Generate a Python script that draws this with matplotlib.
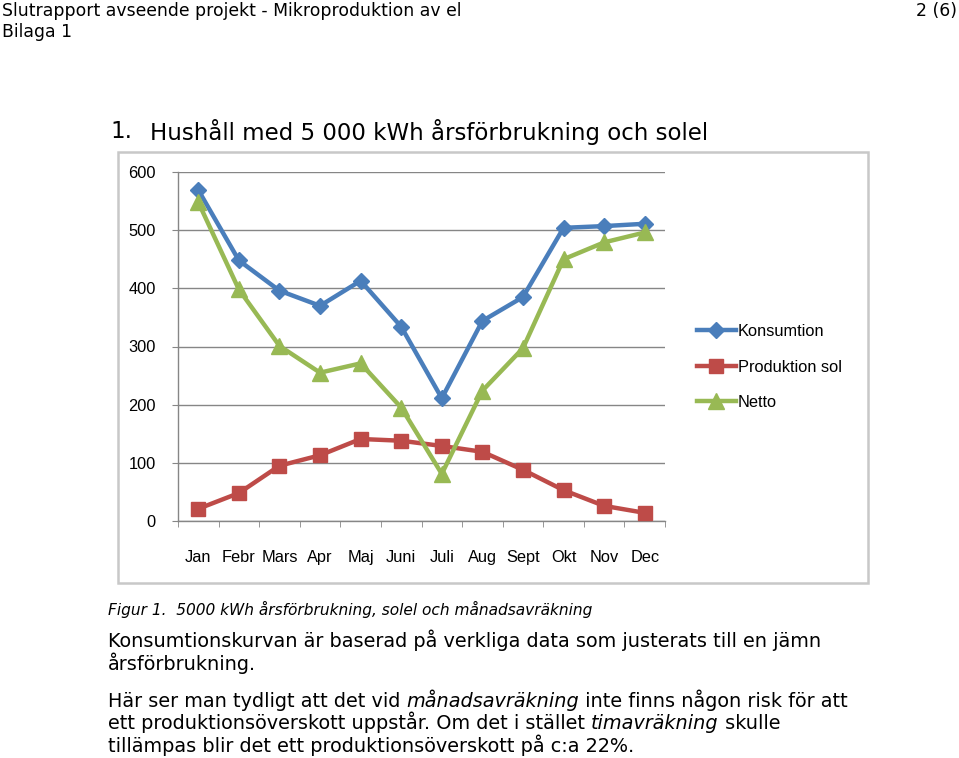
import matplotlib
matplotlib.use('Agg')
import matplotlib.pyplot as plt
from matplotlib.patches import Rectangle
import numpy as np

# -----------------------------------------------------------------------------
# Data
# -----------------------------------------------------------------------------
manader = ['Jan', 'Febr', 'Mars', 'Apr', 'Maj', 'Juni', 'Juli', 'Aug', 'Sept', 'Okt', 'Nov', 'Dec']
konsumtion = [569, 448, 396, 370, 413, 334, 211, 344, 385, 504, 507, 511]
produktion_sol = [21, 48, 95, 113, 141, 138, 129, 119, 88, 53, 26, 14]
netto = [548, 398, 301, 255, 271, 195, 81, 224, 297, 450, 479, 496]
y_ticks = [0, 100, 200, 300, 400, 500, 600]

W, H = 959, 758
fig = plt.figure(figsize=(W / 100, H / 100), dpi=100)


def fx(px):
    return px / W


def fy(py):
    return 1 - py / H


def rad_med_kursiv(x0, y0, delar, fs):
    # skriver en rad i flera delar (normal/kursiv) efter varandra
    renderer = fig.canvas.get_renderer()
    x = fx(x0)
    for txt, kursiv in delar:
        t = fig.text(x, fy(y0), txt, family='DejaVu Sans', fontsize=fs,
                     style='italic' if kursiv else 'normal', va='baseline', ha='left')
        bb = t.get_window_extent(renderer=renderer)
        x = bb.x1 / W


# --- Sidhuvud ---
fig.text(fx(2), fy(11), 'Slutrapport avseende projekt - Mikroproduktion av el',
         family='DejaVu Sans', fontsize=12.45, va='center', ha='left')
fig.text(fx(2), fy(32), 'Bilaga 1', family='DejaVu Sans', fontsize=12.45, va='center', ha='left')
fig.text(fx(957), fy(11), '2 (6)', family='DejaVu Sans', fontsize=12.45, va='center', ha='right')

# --- Rubrik ---
fig.text(fx(110), fy(132), '1.', family='DejaVu Sans', fontsize=16.5, va='center', ha='left')
fig.text(fx(150), fy(132), 'Hushåll med 5 000 kWh årsförbrukning och solel',
         family='DejaVu Sans', fontsize=16.5, va='center', ha='left')

# --- Diagramram ---
fig.patches.append(Rectangle((fx(118), fy(583)), fx(868) - fx(118), fy(152) - fy(583),
                             transform=fig.transFigure, fill=False,
                             edgecolor='#C8C8C8', linewidth=1.8))

# --- Diagram ---
ax = fig.add_axes([fx(178), fy(521), fx(665) - fx(178), fy(172) - fy(521)])
x = np.arange(len(manader))

ax.plot(x, konsumtion, color='#4A7EBB', linewidth=3.2, marker='D', markersize=8,
        label='Konsumtion', zorder=3)
ax.plot(x, produktion_sol, color='#BE4B48', linewidth=3.2, marker='s', markersize=9.5,
        label='Produktion sol', zorder=3)
ax.plot(x, netto, color='#98B954', linewidth=3.2, marker='^', markersize=11,
        label='Netto', zorder=3)

ax.set_xlim(-0.5, len(manader) - 0.5)
ax.set_ylim(0, 600)
ax.set_yticks(y_ticks)
ax.grid(axis='y', color='#868686', linewidth=1.0)
ax.set_axisbelow(True)

for side in ['top', 'right']:
    ax.spines[side].set_visible(False)
for side in ['left', 'bottom']:
    ax.spines[side].set_color('#868686')
    ax.spines[side].set_linewidth(1.0)

ax.set_xticks(x)
ax.set_xticklabels(manader)
ax.set_xticks(np.arange(-0.5, len(manader)), minor=True)
ax.tick_params(axis='x', which='major', length=0, pad=21, labelsize=11.8)
ax.tick_params(axis='x', which='minor', length=4, color='#868686', direction='out')
ax.tick_params(axis='y', length=4, color='#868686', pad=12, labelsize=11.8)
for lbl in ax.get_xticklabels() + ax.get_yticklabels():
    lbl.set_family('Liberation Sans')

leg = ax.legend(loc='center left', bbox_to_anchor=(fx(682), fy(367)),
                bbox_transform=fig.transFigure, frameon=False,
                prop={'family': 'Liberation Sans', 'size': 11.8},
                handlelength=2.4, handletextpad=0.1, labelspacing=1.25)

# --- Bildtext och brödtext ---
fig.text(fx(108), fy(609), 'Figur 1.  5000 kWh årsförbrukning, solel och månadsavräkning',
         family='DejaVu Sans', style='italic', fontsize=11.1, va='center', ha='left')

body_fs = 13.9
rad_med_kursiv(108, 647, [('Konsumtionskurvan är baserad på verkliga data som justerats till en jämn', False)], body_fs)
rad_med_kursiv(108, 670, [('årsförbrukning.', False)], body_fs)
rad_med_kursiv(108, 707, [('Här ser man tydligt att det vid ', False), ('månadsavräkning', True),
                          (' inte finns någon risk för att', False)], body_fs)
rad_med_kursiv(108, 729, [('ett produktionsöverskott uppstår. Om det i stället ', False),
                          ('timavräkning', True), (' skulle', False)], body_fs)
rad_med_kursiv(108, 752, [('tillämpas blir det ett produktionsöverskott på c:a 22%.', False)], body_fs)

fig.savefig('out.png', dpi=100)
